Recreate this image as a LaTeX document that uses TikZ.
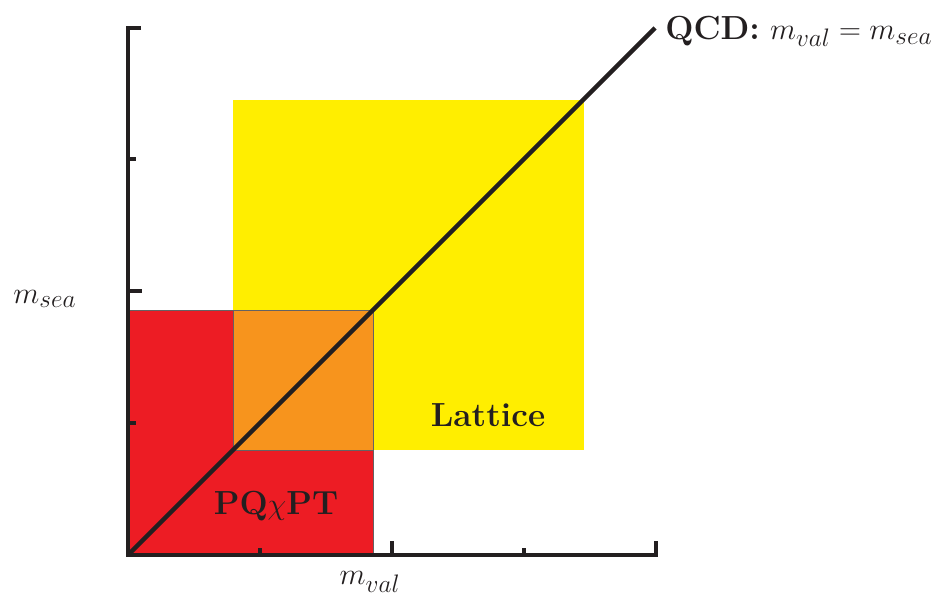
\documentclass[tikz,border=0pt]{standalone}
\usepackage{tikz}
\usetikzlibrary{positioning,calc}
\definecolor{pqRed}{HTML}{ED1C24}
\definecolor{pqOrange}{HTML}{F7941D}
\definecolor{pqYellow}{HTML}{FFEE00}
\definecolor{pqInk}{HTML}{231F20}

\begin{document}
\begin{tikzpicture}[
  axis/.style={line width=2.5pt,draw=pqInk,line join=miter},
  tick/.style={line width=2.2pt,draw=pqInk},
  diag/.style={line width=2.5pt,draw=pqInk},
  region/.style={draw=pqInk!70,line width=0.5pt},
  label/.style={font=\fontsize{19}{22}\selectfont,text=pqInk,inner sep=0pt}
]
\useasboundingbox (-2.56,-0.84) rectangle (16.32,11.1);

% regions
\fill[pqYellow] (2.1,2.1) rectangle (9.12,9.1);
\draw[region,fill=pqRed] (0,0) rectangle (4.9,4.9);
\draw[region,fill=pqOrange] (2.1,2.1) rectangle (4.9,4.9);

% axes
\coordinate (origin) at (0,0);
\coordinate (ytop) at (0,10.54);
\coordinate (xend) at (10.56,0);
\draw[axis] ($(ytop)+(0.26,0)$) -- (ytop) -- (origin) -- (xend) -- ++(0,0.28);
\foreach \i/\l in {1/0.15,2/0.28,3/0.15} {
  \draw[tick] (\i*2.64,0) -- ++(0,\l);
  \draw[tick] (0,\i*2.64) -- ++(\l,0);
}

% diagonal
\coordinate (qcdend) at (10.54,10.54);
\draw[diag] (origin) -- (qcdend);

\node[label,anchor=west] (qcd) at (10.74,10.47) {\textbf{QCD:} $m_{val}=m_{sea}$};
\node[label] (msea) at (-1.66,5.12) {$m_{sea}$};
\node[label] (mval) at (4.84,-0.54) {$m_{val}$};
\node[label] (lattice) at (7.2,2.8) {\textbf{Lattice}};
\node[label] (pqchpt) at (2.96,0.98) {\textbf{PQ$\chi$PT}};
\end{tikzpicture}
\end{document}
